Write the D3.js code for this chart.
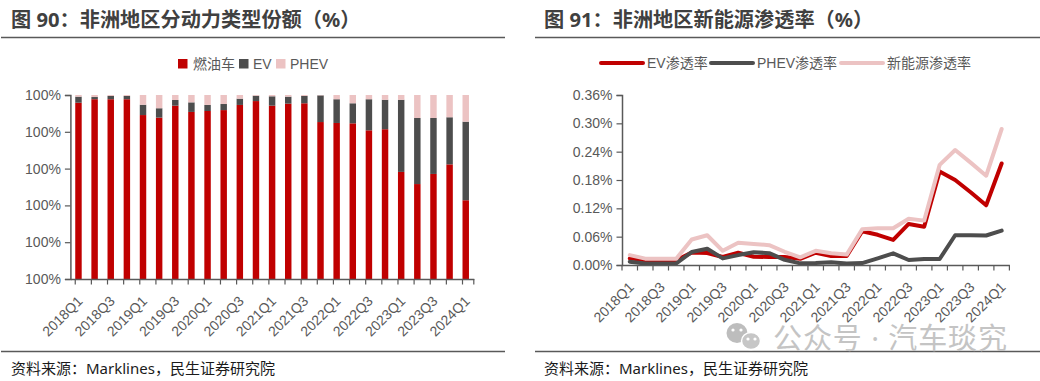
<!DOCTYPE html>
<html><head><meta charset="utf-8">
<script src="https://cdn.jsdelivr.net/npm/d3@7/dist/d3.min.js"></script>
<style>
html,body{margin:0;padding:0;background:#fff;overflow:hidden}
svg{display:block}
text{font-family:"Liberation Sans","Noto Sans CJK SC",sans-serif}
.cjk{font-family:"Noto Sans","Noto Sans CJK SC",sans-serif}
</style></head><body>
<svg id="c" width="1040" height="381"></svg>
<script>
const quarters=["2018Q1","2018Q2","2018Q3","2018Q4","2019Q1","2019Q2","2019Q3","2019Q4","2020Q1","2020Q2","2020Q3","2020Q4","2021Q1","2021Q2","2021Q3","2021Q4","2022Q1","2022Q2","2022Q3","2022Q4","2023Q1","2023Q2","2023Q3","2023Q4","2024Q1"];
const fuelShare=[.958,.977,.977,.977,.891,.877,.942,.908,.913,.918,.946,.967,.942,.953,.955,.853,.848,.846,.808,.814,.582,.516,.571,.623,.428];
const evShare=[.033,.012,.018,.018,.056,.051,.031,.052,.033,.033,.034,.029,.051,.038,.040,.145,.129,.109,.169,.160,.392,.359,.304,.256,.427];
const phevShare=[.009,.011,.005,.005,.053,.072,.027,.040,.054,.049,.020,.004,.007,.009,.005,.002,.023,.045,.023,.026,.026,.125,.125,.121,.145];
const leftTicks=[0,.2,.4,.6,.8,1];
const leftTickLabel="100%";
const evRate=[.014,.010,.010,.010,.0265,.0255,.017,.026,.0175,.017,.017,.013,.026,.019,.019,.0715,.064,.053,.087,.081,.198,.18,.154,.1265,.215];
const phevRate=[.007,.0034,.0034,.0034,.0275,.0345,.014,.021,.027,.025,.011,.0035,.004,.0057,.003,.004,.014,.0247,.0106,.0127,.0127,.063,.063,.0625,.0727];
const nevRate=[.021,.0134,.0134,.0134,.054,.063,.030,.047,.0445,.042,.028,.0163,.030,.0247,.022,.0755,.0777,.0777,.098,.094,.212,.2435,.2167,.189,.288];
const rightTicks=[0,.06,.12,.18,.24,.30,.36];
const title1="图 90：非洲地区分动力类型份额（%）";
const title2="图 91：非洲地区新能源渗透率（%）";
const source="资料来源：Marklines，民生证券研究院";
const watermark="公众号 · 汽车琰究";
const RED="#c00000",DARK="#4d4d4d",PINK="#ecc3c3",GREY="#595959";
const labelTicks=quarters.filter((d,i)=>i%2===0);
const svg=d3.select("#c");

function header(x0,x1,title,tx){
  svg.append("text").attr("x",tx).attr("y",27).attr("class","cjk").attr("font-size",20.2).attr("font-weight",700).attr("fill","#404040").text(title);
  svg.append("line").attr("x1",x0).attr("x2",x1).attr("y1",37.5).attr("y2",37.5).attr("stroke","#595959").attr("stroke-width",1.4);
  svg.append("line").attr("x1",x0).attr("x2",x1).attr("y1",351.5).attr("y2",351.5).attr("stroke","#595959").attr("stroke-width",1.4);
  svg.append("text").attr("x",tx).attr("y",374).attr("class","cjk").attr("font-size",15).attr("fill","#1a1a1a").text(source);
}
header(1,505,title1,11);
header(535,1040,title2,544);

function xAxis(x,yPos){
  const g=svg.append("g").attr("transform",`translate(0,${yPos})`)
    .call(d3.axisBottom(x).tickValues(labelTicks).tickSize(0).tickPadding(0));
  g.select(".domain").attr("stroke",GREY).attr("stroke-width",1.5);
  g.selectAll("text").attr("font-size",14).attr("fill",GREY).attr("text-anchor","end")
    .attr("transform","translate(0,18) rotate(-45)").attr("dy",".5em").attr("dx",0);
  const edges=quarters.map(d=>x(d)).concat([x.range()[1]]);
  g.selectAll("line.edge").data(edges).join("line").attr("class","edge")
    .attr("x1",d=>d).attr("x2",d=>d).attr("y1",0).attr("y2",5.5).attr("stroke",GREY).attr("stroke-width",1.2);
}
function yAxis(y,xPos,fmt,vals){
  const g=svg.append("g").attr("transform",`translate(${xPos},0)`)
    .call(d3.axisLeft(y).tickValues(vals).tickSize(5.5).tickPadding(4).tickFormat(fmt));
  g.select(".domain").attr("stroke",GREY).attr("stroke-width",1.5);
  g.selectAll("line").attr("stroke",GREY).attr("stroke-width",1.2);
  g.selectAll("text").attr("font-size",14).attr("fill",GREY);
}

// left chart
const x1=d3.scaleBand().domain(quarters).range([70.4,473.8]).paddingInner(.6).paddingOuter(.3);
const y1=d3.scaleLinear().domain([0,1]).range([279,95]);
const rows=quarters.map((q,i)=>({q,fuel:fuelShare[i],ev:evShare[i],phev:phevShare[i]}));
const stacked=d3.stack().keys(["fuel","ev","phev"])(rows);
const cols={fuel:RED,ev:DARK,phev:PINK};
svg.append("g").selectAll("g").data(stacked).join("g").attr("fill",d=>cols[d.key])
  .selectAll("rect").data(d=>d).join("rect")
  .attr("x",d=>x1(d.data.q)).attr("width",x1.bandwidth())
  .attr("y",d=>y1(d[1])).attr("height",d=>y1(d[0])-y1(d[1]));
yAxis(y1,70.4,()=>leftTickLabel,leftTicks);
xAxis(x1,279);

const legend1=[["燃油车",RED,178,193],["EV",DARK,239,253],["PHEV",PINK,276,290]];
legend1.forEach(([t,c,sx,tx])=>{
  svg.append("rect").attr("x",sx).attr("y",59).attr("width",9.5).attr("height",9.5).attr("fill",c);
  svg.append("text").attr("x",tx).attr("y",68.5).attr("font-size",14).attr("fill",GREY).text(t);
});

// right chart
const x2=d3.scaleBand().domain(quarters).range([622,1009.4]);
const y2=d3.scaleLinear().domain([0,.36]).range([265,95]);
const line=d3.line().x((d,i)=>x2(quarters[i])+x2.bandwidth()/2).y(d=>y2(d));
[[evRate,RED],[phevRate,DARK],[nevRate,PINK]].forEach(([s,c])=>{
  svg.append("path").datum(s).attr("d",line).attr("fill","none").attr("stroke",c)
    .attr("stroke-width",4).attr("stroke-linejoin","round").attr("stroke-linecap","round");
});
yAxis(y2,622,d=>d.toFixed(2)+"%",rightTicks);
xAxis(x2,265);

const legend2=[["EV渗透率",RED,601,647],["PHEV渗透率",DARK,711,757],["新能源渗透率",PINK,841,887]];
legend2.forEach(([t,c,sx,tx])=>{
  svg.append("line").attr("x1",sx).attr("x2",sx+42).attr("y1",63).attr("y2",63).attr("stroke",c).attr("stroke-width",4).attr("stroke-linecap","round");
  svg.append("text").attr("x",tx).attr("y",68).attr("font-size",14).attr("fill",GREY).text(t);
});

// watermark
const wm=svg.append("g");
wm.append("ellipse").attr("cx",737).attr("cy",333).attr("rx",10.5).attr("ry",10).attr("fill","#bdbdbd");
wm.append("ellipse").attr("cx",751).attr("cy",341).attr("rx",9.5).attr("ry",8.5).attr("fill","#c6c6c6").attr("stroke","#fff").attr("stroke-width",1.5);
[[733,330],[741,330],[748,339],[755,339]].forEach(([a,b])=>wm.append("circle").attr("cx",a).attr("cy",b).attr("r",1.6).attr("fill","#fff"));
svg.append("text").attr("x",773).attr("y",349).attr("class","cjk").attr("font-size",29).attr("fill","#c4c4c4").attr("textLength",234).text(watermark);
</script>
</body></html>
